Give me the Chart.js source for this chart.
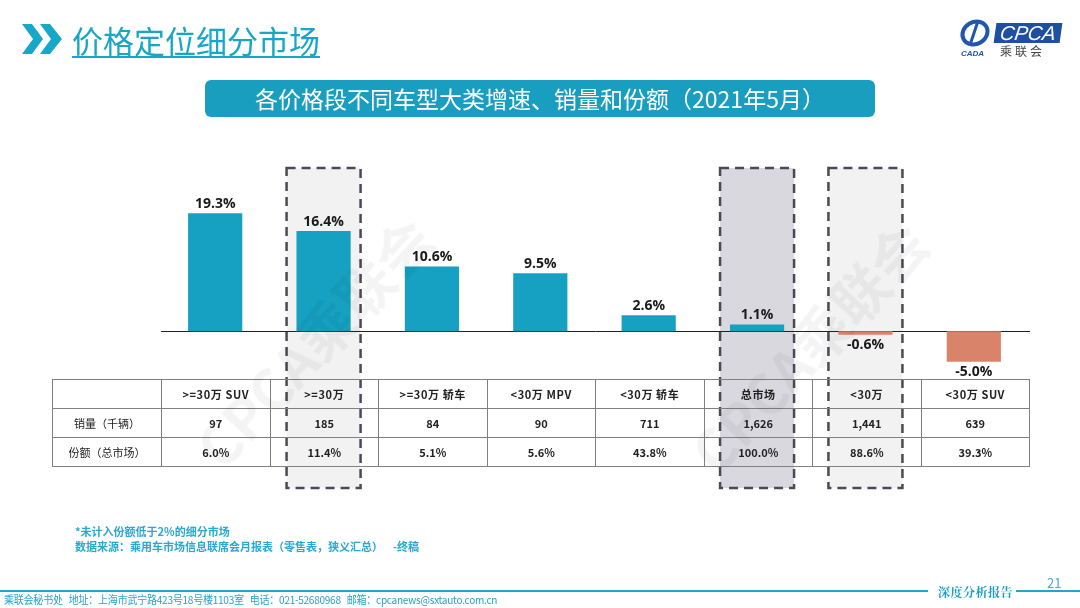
<!DOCTYPE html>
<html>
<head>
<meta charset="utf-8">
<script src="https://cdn.jsdelivr.net/npm/chart.js@4.4.1/dist/chart.umd.min.js"></script>
<style>
  body { margin: 0; width: 1080px; height: 608px; overflow: hidden; background: #fff;
         font-family: "Noto Sans CJK SC", "Noto Sans", sans-serif; position: relative; }
  #c { position: absolute; left: 0; top: 0; }
  .abs { position: absolute; }
  #title { left: 72px; top: 17px; font-size: 31px; color: #17a6c8; text-decoration: underline;
           text-decoration-thickness: 2px; text-underline-offset: 3px; white-space: nowrap; }
  #banner { left: 205px; top: 80px; width: 670px; height: 37px; background: #1a9ebf; border-radius: 6px;
            color: #fff; font-size: 23px; line-height: 37px; text-align: center; white-space: nowrap; }
  #tbl { left: 52px; top: 379px; border-collapse: collapse; table-layout: fixed; width: 977px; }
  #tbl td { border: 1px solid #808080; height: 28px; padding: 0; text-align: center;
            font-size: 11px; color: #222; font-weight: bold; white-space: nowrap; }
  #tbl td.lbl { font-weight: normal; }
  .note { left: 75px; font-size: 11px; font-weight: bold; color: #2aa8d0; white-space: nowrap; }
  #foot { left: 4px; top: 591px; font-size: 11px; color: #2aa3cc; white-space: nowrap; letter-spacing: -0.3px;
          transform: scaleX(0.915); transform-origin: left center; }
  .wm { font-size: 56px; font-weight: bold; color: rgba(0,0,0,0.045); white-space: nowrap;
        transform: rotate(-47deg); transform-origin: center; pointer-events: none; }
</style>
</head>
<body>
<canvas id="c" width="1080" height="608"></canvas>

<!-- header -->
<svg class="abs" style="left:22px;top:24px" width="42" height="30" viewBox="0 0 42 30">
  <polygon points="0,0 10,0 21,15 10,30 0,30 11,15" fill="#17a7c9"/>
  <polygon points="18,0 28,0 40,15 28,30 18,30 29,15" fill="#17a7c9"/>
</svg>
<div id="title" class="abs">价格定位细分市场</div>

<!-- logo -->
<svg class="abs" style="left:958px;top:18px" width="34" height="40" viewBox="0 0 34 40">
  <ellipse cx="17" cy="15" rx="13" ry="11" fill="none" stroke="#1f57b0" stroke-width="4" transform="rotate(-30 17 15)"/>
  <path d="M20 3 L12 27" stroke="#1f57b0" stroke-width="3"/>
  <text x="3" y="38" font-size="8" font-style="italic" font-weight="bold" fill="#1f57b0" font-family="Liberation Sans">CADA</text>
</svg>
<div class="abs" style="left:995px;top:23px;width:66px;height:20px;background:#1e4fa3;color:#fff;font-family:'Liberation Sans';font-style:italic;font-size:20px;line-height:20px;text-align:center;transform:skewX(-8deg)">CPCA</div>
<div class="abs" style="left:1000px;top:42px;font-size:12px;color:#444;letter-spacing:3px">乘联会</div>

<div id="banner" class="abs">各价格段不同车型大类增速、销量和份额（2021年5月）</div>

<table id="tbl" class="abs"></table>

<div class="abs note" style="top:523px">*未计入份额低于2%的细分市场</div>
<div class="abs note" style="top:538px">数据来源：乘用车市场信息联席会月报表（零售表，狭义汇总）&nbsp;&nbsp;&nbsp;&nbsp;-终稿</div>

<!-- footer -->
<div class="abs" style="left:0;top:590px;width:928px;height:2px;background:#1ea9cc"></div>
<div class="abs" style="left:1016px;top:590px;width:64px;height:2px;background:#1ea9cc"></div>
<div class="abs" style="left:938px;top:583px;font-size:12px;font-weight:bold;color:#1a9fc0;letter-spacing:0.5px;font-family:'Noto Serif CJK SC','Noto Sans CJK SC'">深度分析报告</div>
<div class="abs" style="left:1047px;top:573px;font-size:13px;color:#3ab0d0">21</div>
<div id="foot" class="abs">乘联会秘书处&nbsp;&nbsp;&nbsp;地址：上海市武宁路423号18号楼1103室&nbsp;&nbsp;&nbsp;电话：021-52680968&nbsp;&nbsp;&nbsp;邮箱：cpcanews@sxtauto.com.cn</div>

<div class="abs wm" style="left:155px;top:300px">CPCA乘联会</div>
<div class="abs wm" style="left:650px;top:305px">CPCA乘联会</div>

<script>
const categories = ['>=30万 SUV', '>=30万', '>=30万 轿车', '<30万 MPV', '<30万 轿车', '总市场', '<30万', '<30万 SUV'];
const growth = [19.3, 16.4, 10.6, 9.5, 2.6, 1.1, -0.6, -5.0];
const sales = ['97', '185', '84', '90', '711', '1,626', '1,441', '639'];
const share = ['6.0%', '11.4%', '5.1%', '5.6%', '43.8%', '100.0%', '88.6%', '39.3%'];
const rowLabels = ['销量（千辆）', '份额（总市场）'];

// table under the bars
function buildTable() {
  var html = '<colgroup><col style="width:109px">';
  for (var i = 0; i < categories.length; i++) html += '<col style="width:108.5px">';
  html += '</colgroup><tr><td></td>';
  categories.forEach(function (c) { html += '<td style="letter-spacing:0.6px">' + c.replace(/</g, '&lt;').replace(/>/g, '&gt;') + '</td>'; });
  html += '</tr><tr><td class="lbl">' + rowLabels[0] + '</td>';
  sales.forEach(function (v) { html += '<td>' + v + '</td>'; });
  html += '</tr><tr><td class="lbl">' + rowLabels[1] + '</td>';
  share.forEach(function (v) { html += '<td>' + v + '</td>'; });
  html += '</tr>';
  document.getElementById('tbl').innerHTML = html;
}
buildTable();

// dashed highlight boxes behind the bars
const boxPlugin = {
  id: 'boxes',
  beforeDatasetsDraw: function (chart, args, opts) {
    var ctx = chart.ctx, x = chart.scales.x;
    opts.items.forEach(function (b) {
      var cx = x.getPixelForValue(b.index);
      var l = cx - 37, w = 74, t = 168, h = 320;
      ctx.save();
      ctx.fillStyle = b.fill;
      ctx.fillRect(l, t, w, h);
      ctx.setLineDash([9, 6]);
      ctx.lineWidth = 2.5;
      ctx.strokeStyle = '#4a4a55';
      ctx.strokeRect(l, t, w, h);
      ctx.restore();
    });
    // zero line
    var y0 = chart.scales.y.getPixelForValue(0);
    ctx.save();
    ctx.strokeStyle = '#222';
    ctx.lineWidth = 1;
    ctx.beginPath();
    ctx.moveTo(chart.chartArea.left, Math.round(y0) + 0.5);
    ctx.lineTo(chart.chartArea.right + 2, Math.round(y0) + 0.5);
    ctx.stroke();
    ctx.restore();
  }
};

// value labels above / below bars
const labelPlugin = {
  id: 'vals',
  afterDatasetsDraw: function (chart) {
    var ctx = chart.ctx;
    var meta = chart.getDatasetMeta(0);
    ctx.save();
    ctx.font = 'bold 14px "Open Sans"';
    ctx.fillStyle = '#1a1a1a';
    ctx.textAlign = 'center';
    meta.data.forEach(function (bar, i) {
      var v = growth[i];
      var txt = v.toFixed(1) + '%';
      if (v >= 0) {
        ctx.textBaseline = 'bottom';
        ctx.fillText(txt, bar.x, bar.y - 2);
      } else {
        ctx.textBaseline = 'top';
        ctx.fillText(txt, bar.x, bar.y + 3);
      }
    });
    ctx.restore();
  }
};

var myChart = new Chart(document.getElementById('c'), {
  type: 'bar',
  data: {
    labels: categories,
    datasets: [{
      data: growth,
      backgroundColor: growth.map(function (v) { return v >= 0 ? '#16a0c1' : '#d8836a'; }),
      borderWidth: 0,
      categoryPercentage: 1,
      barPercentage: 0.5
    }]
  },
  plugins: [boxPlugin, labelPlugin],
  options: {
    responsive: false,
    animation: false,
    layout: { padding: { left: 161, right: 52, top: 178.5, bottom: 228 } },
    plugins: {
      legend: { display: false },
      tooltip: { enabled: false },
      boxes: {
        items: [
          { index: 1, fill: '#f2f2f2' },
          { index: 5, fill: '#d9d8df' },
          { index: 6, fill: '#f2f2f2' }
        ]
      }
    },
    scales: {
      x: { display: false },
      y: { display: false, min: -8, max: 25 }
    }
  }
});
</script>
</body>
</html>
